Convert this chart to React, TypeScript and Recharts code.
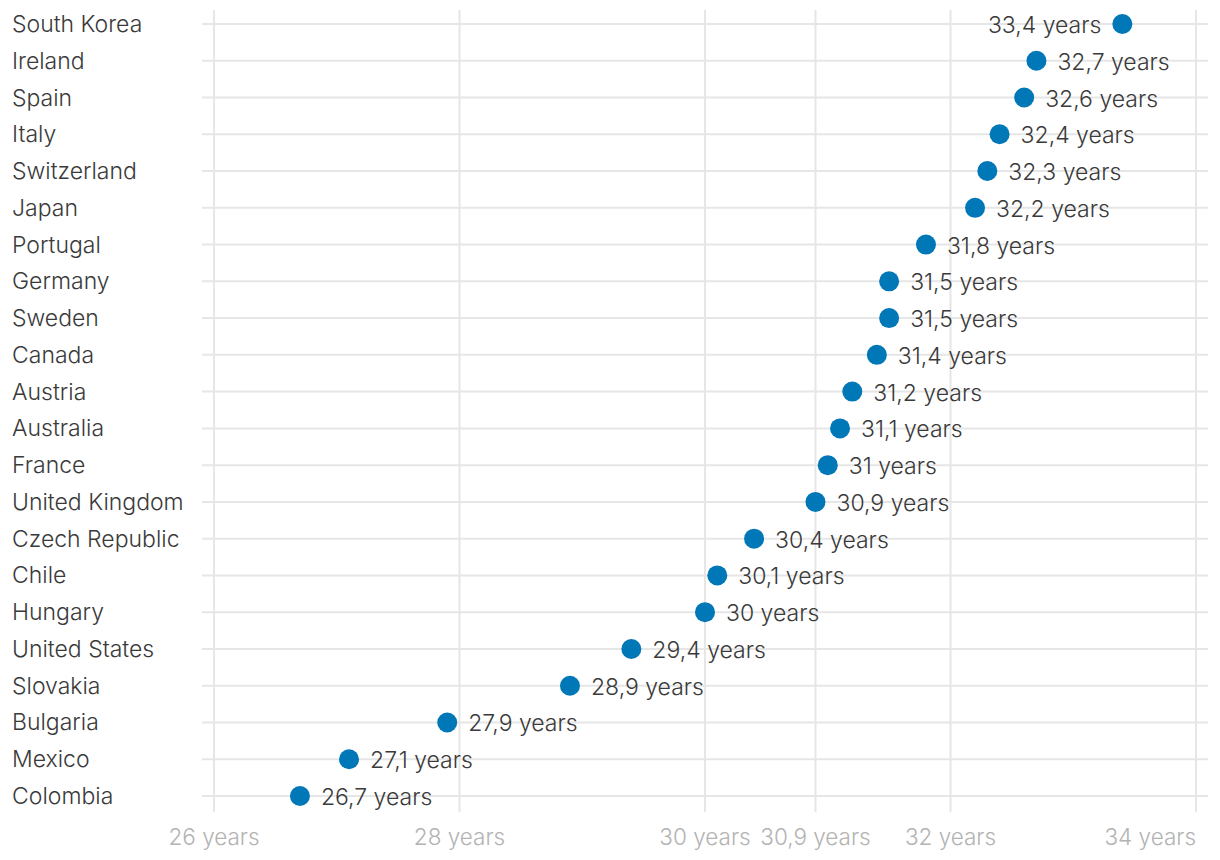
import React from "react";
import { LineChart, Line, XAxis, YAxis, CartesianGrid, LabelList } from "recharts";

const countries = [
  "South Korea", "Ireland", "Spain", "Italy", "Switzerland", "Japan", "Portugal",
  "Germany", "Sweden", "Canada", "Austria", "Australia", "France", "United Kingdom",
  "Czech Republic", "Chile", "Hungary", "United States", "Slovakia", "Bulgaria",
  "Mexico", "Colombia",
];
const ages = [
  33.4, 32.7, 32.6, 32.4, 32.3, 32.2, 31.8, 31.5, 31.5, 31.4, 31.2, 31.1, 31.0,
  30.9, 30.4, 30.1, 30.0, 29.4, 28.9, 27.9, 27.1, 26.7,
];
const xTicks = [26, 28, 30, 30.9, 32, 34];
const labelLeftCountries = ["South Korea"];

const data = countries.map((c, i) => ({ country: c, value: ages[i] }));

const FONT = "Inter, Roboto, 'Noto Sans', sans-serif";
const fmt = (v: number) => `${String(v).replace(".", ",")} years`;

const YTick = (props: any) => {
  const { y, payload } = props;
  return (
    <text x={12} y={y} textAnchor="start" dominantBaseline="central"
      fontFamily={FONT} fontWeight={300} fontSize={23} fill="#3a3a3a">
      {payload.value}
    </text>
  );
};

const XTick = (props: any) => {
  const { x, y, payload, index } = props;
  const last = index === xTicks.length - 1;
  return (
    <text x={x} y={y} dy={16} textAnchor={last ? "end" : "middle"} dominantBaseline="central"
      fontFamily={FONT} fontWeight={300} fontSize={22.5} fill="#b3b3b3">
      {fmt(payload.value)}
    </text>
  );
};

const ValueLabel = (props: any) => {
  const { x, y, value, index } = props;
  const left = labelLeftCountries.includes(countries[index]);
  return (
    <text x={left ? x - 21 : x + 21} y={y} dy={1} textAnchor={left ? "end" : "start"}
      dominantBaseline="central" fontFamily={FONT} fontWeight={300} fontSize={23} fill="#3a3a3a">
      {fmt(value)}
    </text>
  );
};

const vGen = (p: any) => {
  const s = p?.xAxis?.scale;
  if (!s) return [];
  const f = typeof s === "function" ? s : s.map ? (v: any) => s.map(v) : null;
  return f ? xTicks.map((t) => f(t)) : [];
};
const hGen = (p: any) => {
  const s = p?.yAxis?.scale;
  if (!s) return [];
  const f = typeof s === "function" ? s : s.map ? (v: any) => s.map(v) : null;
  return f ? countries.map((c) => f(c)) : [];
};

export default function App() {
  return (
    <div style={{ position: "absolute", left: 0, top: 0, width: 1220, height: 860, background: "#fff" }}>
      <LineChart
        width={1220}
        height={860}
        data={data}
        layout="vertical"
        margin={{ top: 10, right: 12, bottom: 0, left: 0 }}
      >
        <CartesianGrid
          stroke="#e6e6e6"
          strokeWidth={2}
          verticalCoordinatesGenerator={vGen}
          horizontalCoordinatesGenerator={hGen}
        />
        <XAxis
          type="number"
          dataKey="value"
          domain={[26, 34]}
          ticks={xTicks}
          padding={{ left: 12, right: 12 }}
          axisLine={false}
          tickLine={false}
          height={48}
          tick={<XTick />}
          interval={0}
        />
        <YAxis
          type="category"
          dataKey="country"
          width={202}
          axisLine={false}
          tickLine={false}
          padding={{ top: 14, bottom: 16 }}
          tick={<YTick />}
          interval={0}
        />
        <Line
          dataKey="value"
          stroke="none"
          isAnimationActive={false}
          dot={{ r: 10, fill: "#0077b6", stroke: "none" }}
          activeDot={false}
        >
          <LabelList dataKey="value" content={<ValueLabel />} />
        </Line>
      </LineChart>
    </div>
  );
}
